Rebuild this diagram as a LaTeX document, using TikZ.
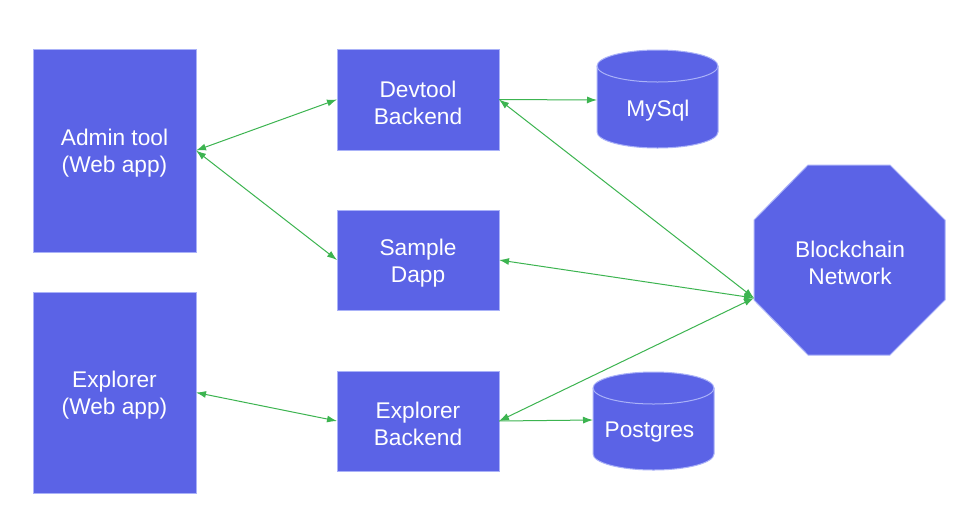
\documentclass[tikz,border=0pt]{standalone}
\usepackage{fontspec}
\setmainfont{Liberation Sans}
\usetikzlibrary{arrows.meta}
\definecolor{boxfill}{RGB}{91,99,230}
\definecolor{boxline}{RGB}{170,178,248}
\definecolor{arrgreen}{RGB}{60,180,80}
\tikzset{
  box/.style={rectangle, fill=boxfill, draw=boxline, line width=1pt,
    inner sep=0pt, outer sep=0pt},
  lbl/.style={text=white, align=center, inner sep=0pt, font=\fontsize{22.7}{27}\selectfont},
  shapefill/.style={fill=boxfill, draw=boxline, line width=1pt},
  biarrow/.style={draw=arrgreen, line width=1pt, {Latex[length=10pt,width=7pt]}-{Latex[length=10pt,width=7pt]}},
  oneway/.style={draw=arrgreen, line width=1pt, -{Latex[length=10pt,width=7pt]}}
}
\begin{document}
\begin{tikzpicture}[x=1pt,y=1pt]
\useasboundingbox (0,0) rectangle (975,-520);
\fill[white] (0,0) rectangle (975,-520);

\node[box, minimum width=163, minimum height=203] (admin) at (114.5,-150.5) {};
\node[lbl] (admintxt) at ([yshift=-3]admin.center) {Admin tool\\(Web app)};
\node[box, minimum width=163, minimum height=201] (explorer) at (114.5,-392.5) {};
\node[lbl] (explorertxt) at ([yshift=-3]explorer.center) {Explorer\\(Web app)};
\node[box, minimum width=162, minimum height=101] (devtool) at (418,-99.5) {};
\node[lbl] (devtooltxt) at ([yshift=-3]devtool.center) {Devtool\\Backend};
\node[box, minimum width=162, minimum height=100] (sample) at (418,-260) {};
\node[lbl] (sampletxt) at ([yshift=-3]sample.center) {Sample\\Dapp};
\node[box, minimum width=162, minimum height=100] (eb) at (418,-421) {};
\node[lbl] (ebtxt) at ([yshift=-3]eb.center) {Explorer\\Backend};

% MySQL cylinder
\path[shapefill] (597,-66) -- (597,-132) arc[start angle=180,end angle=360,x radius=60.5,y radius=16]
  -- (718,-66) arc[start angle=0,end angle=180,x radius=60.5,y radius=16] -- cycle;
\draw[boxline, line width=1pt] (597,-66) arc[start angle=180,end angle=360,x radius=60.5,y radius=16];
\node[lbl] (mysqltxt) at (658,-111) {MySql};
\coordinate (mysql) at (597,-100);

% Postgres cylinder
\path[shapefill] (593,-388) -- (593,-454) arc[start angle=180,end angle=360,x radius=60.5,y radius=16]
  -- (714,-388) arc[start angle=0,end angle=180,x radius=60.5,y radius=16] -- cycle;
\draw[boxline, line width=1pt] (593,-388) arc[start angle=180,end angle=360,x radius=60.5,y radius=16];
\node[lbl] (pgtxt) at (649.5,-432) {Postgres};
\coordinate (postgres) at (593,-420);

% Blockchain octagon
\path[shapefill] (808,-165) -- (890,-165) -- (945,-220) -- (945,-300) -- (890,-355) -- (808,-355) -- (754,-300) -- (754,-220) -- cycle;
\node[lbl] (bc) at (850,-262.5) {Blockchain\\Network};
\coordinate (bcin) at (754,-298);

% connectors
\draw[biarrow] (admin.east) -- (devtool.west);
\draw[biarrow] (admin.east) -- (sample.west);
\draw[biarrow] (explorer.east) -- (eb.west);
\draw[oneway] (devtool.east) -- (mysql);
\draw[oneway] (eb.east) -- (postgres);
\draw[biarrow] (devtool.east) -- (bcin);
\draw[biarrow] (sample.east) -- (bcin);
\draw[biarrow] (eb.east) -- (bcin);
\end{tikzpicture}
\end{document}
